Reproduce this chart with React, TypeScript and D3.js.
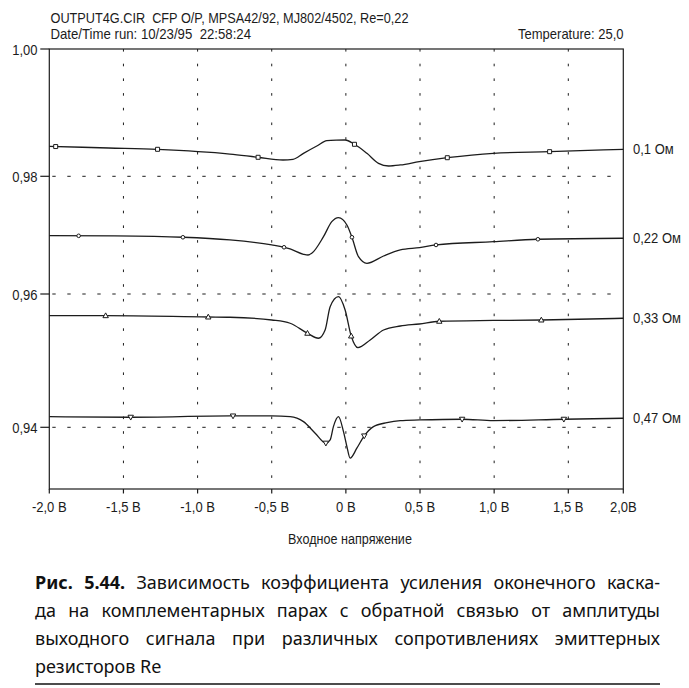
import { useEffect, useRef } from 'react';
import * as d3 from 'd3';

// x ticks (input voltage) and y ticks (gain)
const xTicks = [-2, -1.5, -1, -0.5, 0, 0.5, 1, 1.5, 2];
const xTickLabels = ['-2,0 В', '-1,5 В', '-1,0 В', '-0,5 В', '0 В', '0,5 В', '1,0 В', '1,5 В', '2,0В'];
const yTicks = [1.0, 0.98, 0.96, 0.94];
const yTickLabels = ['1,00', '0,98', '0,96', '0,94'];
const xGrid = [-1.5, -1, -0.5, 0, 0.5, 1, 1.5];
const yGrid = [0.98, 0.96, 0.94];

// [voltage, gain]
const series01: [number, number][] = [
  [-2.0, 0.9847], [-1.6, 0.98445], [-1.27, 0.98424], [-0.782, 0.9835], [-0.593, 0.98299],
  [-0.424, 0.98256], [-0.357, 0.98267], [-0.286, 0.98361], [-0.196, 0.98476], [-0.128, 0.98559],
  [-0.065, 0.98568], [-0.005, 0.9857], [0.058, 0.98503], [0.142, 0.98361], [0.22, 0.98204],
  [0.288, 0.98162], [0.367, 0.98178], [0.495, 0.9823], [0.684, 0.98292], [0.995, 0.98361],
  [1.374, 0.98387], [2.0, 0.98424],
];
const series022: [number, number][] = [
  [-2.0, 0.96991], [-1.559, 0.96986], [-1.099, 0.96964], [-0.782, 0.96918], [-0.5, 0.96833],
  [-0.417, 0.96794], [-0.376, 0.96765], [-0.286, 0.96675], [-0.255, 0.96663], [-0.23, 0.96692],
  [-0.151, 0.96974], [-0.095, 0.97229], [-0.05, 0.97297], [0.007, 0.97173], [0.041, 0.96964],
  [0.085, 0.96634], [0.142, 0.96522], [0.254, 0.96646], [0.367, 0.96748], [0.497, 0.96787],
  [0.608, 0.96833], [0.995, 0.96889], [1.295, 0.9693], [2.0, 0.96947],
];
const series033: [number, number][] = [
  [-2.0, 0.95675], [-1.622, 0.95675], [-0.928, 0.95655], [-0.782, 0.95651], [-0.5, 0.9561],
  [-0.376, 0.95561], [-0.259, 0.95411], [-0.185, 0.95336], [-0.14, 0.9546], [-0.106, 0.9581],
  [-0.05, 0.9596], [-0.005, 0.9576], [0.036, 0.9537], [0.081, 0.95195], [0.164, 0.9531],
  [0.254, 0.9546], [0.367, 0.9552], [0.495, 0.9555], [0.63, 0.95591], [0.995, 0.95603],
  [1.318, 0.9561], [2.0, 0.95636],
];
const series047: [number, number][] = [
  [-2.0, 0.9416], [-1.451, 0.94151], [-0.782, 0.9417], [-0.5, 0.9417], [-0.376, 0.9416],
  [-0.286, 0.94085], [-0.207, 0.93911], [-0.135, 0.93761], [-0.106, 0.9381], [-0.084, 0.9401],
  [-0.05, 0.9416], [-0.016, 0.93935], [0.007, 0.9371], [0.029, 0.93535], [0.074, 0.93685],
  [0.124, 0.9387], [0.186, 0.9401], [0.277, 0.9407], [0.367, 0.941], [0.497, 0.9411],
  [0.784, 0.94121], [0.995, 0.941], [1.47, 0.94121], [2.0, 0.94136],
];

// voltages where the PSpice markers sit
const markers01 = [-1.957, -1.27, -0.592, 0.058, 0.684, 1.374];
const markers022 = [-1.802, -1.099, -0.417, 0.041, 0.608, 1.295];
const markers033 = [-1.62, -0.928, -0.259, 0.036, 0.63, 1.318];
const markers047 = [-1.451, -0.761, -0.135, 0.124, 0.784, 1.47];

const seriesLabels = ['0,1 Ом', '0,22 Ом', '0,33 Ом', '0,47 Ом'];

const captionLines = [
  'Зависимость коэффициента усиления оконечного каска-',
  'да на комплементарных парах с обратной связью от амплитуды',
  'выходного сигнала при различных сопротивлениях эмиттерных',
  'резисторов Re',
];

const W = 689;
const H = 688;
const plot = { left: 49.3, right: 623.3, top: 49, bottom: 489 };
const chartFont = "'Liberation Sans', Arial, sans-serif";
const captionFont = "'Noto Sans', 'DejaVu Sans', sans-serif";
const ink = '#1c1c1c';

// the scanned axes are not quite even, so the scales are piecewise
const x = d3.scaleLinear().domain([-2, 1.5, 2]).range([plot.left, 568.3, plot.right]);
const y = d3
  .scaleLinear()
  .domain([0.9307, 0.94, 0.96, 0.98, 1.0])
  .range([plot.bottom, 427.3, 294, 176.3, plot.top]);

const line = d3
  .line<[number, number]>()
  .x((d) => x(d[0]))
  .y((d) => y(d[1]))
  .curve(d3.curveMonotoneX);

const interp = (s: [number, number][], v: number) => {
  const i = d3.bisector((d: [number, number]) => d[0]).right(s, v);
  const a = s[Math.max(0, i - 1)];
  const b = s[Math.min(s.length - 1, i)];
  if (a[0] === b[0]) return a[1];
  return a[1] + ((v - a[0]) / (b[0] - a[0])) * (b[1] - a[1]);
};

const markerPath = (kind: string) => {
  if (kind === 'square') return 'M-2,-2H2V2H-2Z';
  if (kind === 'circle') return 'M-1.8,0A1.8,1.8 0 1,0 1.8,0A1.8,1.8 0 1,0 -1.8,0Z';
  if (kind === 'up') return 'M0,-2.8L2.7,2L-2.7,2Z';
  return 'M0,2.8L2.7,-2L-2.7,-2Z';
};

const allSeries = [
  { data: series01, markers: markers01, kind: 'square' },
  { data: series022, markers: markers022, kind: 'circle' },
  { data: series033, markers: markers033, kind: 'up' },
  { data: series047, markers: markers047, kind: 'down' },
];

// condensed text, like the narrow font of the original printout
const CText = ({ x, y, anchor = 'start', size = 15.5, children }: any) => (
  <text
    transform={`translate(${x},${y}) scale(0.84,1)`}
    textAnchor={anchor}
    fontSize={size}
    fontFamily={chartFont}
    fill={ink}
  >
    {children}
  </text>
);

const App = () => {
  const ref = useRef<SVGSVGElement>(null);

  useEffect(() => {
    // justify caption lines by spreading the word gaps
    const svg = ref.current;
    if (!svg) return;
    svg.querySelectorAll<SVGTextElement>('text[data-width]').forEach((el) => {
      el.removeAttribute('word-spacing');
      const w = el.getComputedTextLength();
      const target = Number(el.dataset.width);
      const gaps = (el.textContent || '').split(' ').length - 1;
      if (gaps > 0) el.setAttribute('word-spacing', String((target - w) / gaps));
    });
  }, []);

  const capLeft = 35;
  const capRight = 660;
  const capBase = [588.5, 617, 645, 673];

  return (
    <svg
      ref={ref}
      width={W}
      height={H}
      style={{ position: 'absolute', left: 0, top: 0, background: 'white' }}
    >
      {/* header */}
      <text x={50.5} y={22.5} fontSize={15} fontFamily={chartFont} fill={ink}
        textLength={358} lengthAdjust="spacingAndGlyphs" style={{ whiteSpace: 'pre' }}>
        OUTPUT4G.CIR  CFP O/P, MPSA42/92, MJ802/4502, Re=0,22
      </text>
      <text x={50.5} y={38.7} fontSize={15} fontFamily={chartFont} fill={ink}
        textLength={200.5} lengthAdjust="spacingAndGlyphs" style={{ whiteSpace: 'pre' }}>
        Date/Time run: 10/23/95  22:58:24
      </text>
      <text x={623.6} y={38.7} fontSize={15} fontFamily={chartFont} fill={ink} textAnchor="end"
        textLength={105.6} lengthAdjust="spacingAndGlyphs">
        Temperature: 25,0
      </text>

      {/* grid */}
      {xGrid.map((v) => (
        <line key={'gx' + v} x1={x(v)} x2={x(v)} y1={plot.top} y2={plot.bottom}
          stroke={ink} strokeWidth={1} strokeDasharray="2.6 12.1" />
      ))}
      {yGrid.map((v) => (
        <line key={'gy' + v} x1={plot.left + 3} x2={plot.right - 8} y1={y(v)} y2={y(v)}
          stroke={ink} strokeWidth={1} strokeDasharray="3.4 11.6" />
      ))}

      {/* frame */}
      <rect x={plot.left} y={plot.top} width={plot.right - plot.left} height={plot.bottom - plot.top}
        fill="none" stroke={ink} strokeWidth={1.2} />

      {/* y axis */}
      {yTicks.map((t, i) => (
        <g key={'yt' + t}>
          <line x1={plot.left - 9} x2={plot.left} y1={y(t)} y2={y(t)} stroke={ink} strokeWidth={1.2} />
          <CText x={37.5} y={y(t) + 5.5} anchor="end">{yTickLabels[i]}</CText>
        </g>
      ))}

      {/* x axis */}
      {xTicks.map((t, i) => (
        <g key={'xt' + t}>
          <line x1={x(t)} x2={x(t)} y1={plot.bottom} y2={plot.bottom + 4.5} stroke={ink} strokeWidth={1.2} />
          <CText x={x(t)} y={512} anchor="middle">{xTickLabels[i]}</CText>
        </g>
      ))}
      <CText x={350} y={544} anchor="middle" size={15}>Входное напряжение</CText>

      {/* curves */}
      {allSeries.map((s, i) => (
        <g key={'s' + i}>
          <path d={line(s.data) || ''} fill="none" stroke={ink} strokeWidth={1.3} />
          {s.markers.map((m) => (
            <path key={m} d={markerPath(s.kind)}
              transform={`translate(${x(m)},${y(interp(s.data, m))})`}
              fill="white" stroke={ink} strokeWidth={1} />
          ))}
          <CText x={633} y={y(s.data[s.data.length - 1][1]) + 5}>{seriesLabels[i]}</CText>
        </g>
      ))}

      {/* caption */}
      {captionLines.map((t, i) => (
        <text key={'c' + i} x={capLeft} y={capBase[i]} fontSize={18} fontFamily={captionFont}
          fill="#111" data-width={i < 3 ? capRight - capLeft : undefined}
          style={{ whiteSpace: 'pre' }}>
          {i === 0 ? (
            <>
              <tspan fontWeight="bold">Рис. 5.44.</tspan>
              {' ' + t}
            </>
          ) : (
            t
          )}
        </text>
      ))}
      <line x1={capLeft} x2={capRight} y1={684} y2={684} stroke="#111" strokeWidth={1.5} />
    </svg>
  );
};

export default App;
